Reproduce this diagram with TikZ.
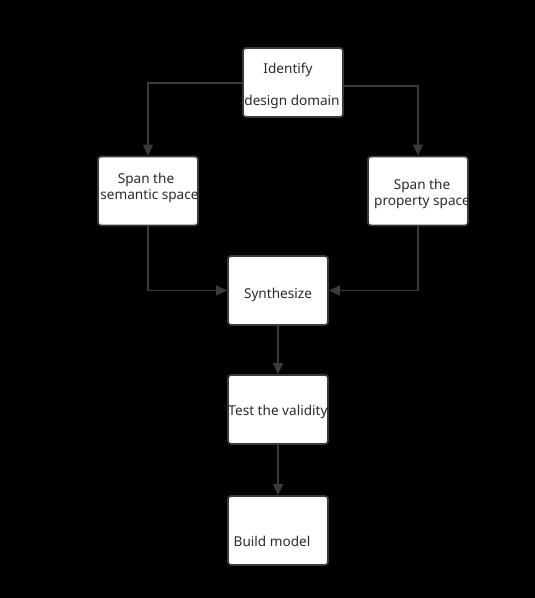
\documentclass[tikz,border=0pt]{standalone}
\usepackage{fontspec}
\setmainfont{Noto Sans}
\usetikzlibrary{arrows.meta}
\definecolor{ln}{HTML}{3A3A3A}
\definecolor{tx}{HTML}{2A2A2A}
\tikzset{
  x=1pt,y=-1pt,
  box/.style={draw=ln,line width=1.7pt,fill=white,rounded corners=3pt,minimum width=100pt,minimum height=69pt,inner sep=0pt},
  lbl/.style={text=tx,font=\fontsize{13.6}{15}\selectfont,inner sep=0pt,anchor=base},
  conn/.style={draw=ln,line width=1.6pt,-{Triangle[length=11pt,width=10pt]}}
}
\begin{document}
\begin{tikzpicture}
\fill[black] (0,0) rectangle (535,598);
\useasboundingbox (0,0) rectangle (535,598);
\node[box] (idf) at (293,82.5) {};
\node[box] (sem) at (148,191) {};
\node[box] (pro) at (418,191) {};
\node[box] (syn) at (278,290.5) {};
\node[box] (tst) at (278,409.5) {};
\node[box] (bld) at (278,530.5) {};
\node[lbl] (t1) at (288,73) {Identify};
\node[lbl] (t2) at (292,105) {design domain};
\node[lbl] (t3) at (146,183) {Span the};
\node[lbl] (t4) at (149.5,199) {semantic space};
\node[lbl] (t5) at (422,189) {Span the};
\node[lbl] (t6) at (422,205) {property space};
\node[lbl] (t7) at (278,298) {Synthesize};
\node[lbl] (t8) at (278,415) {Test the validity};
\node[lbl] (t9) at (272,546) {Build model};
\coordinate (a1) at (148,83);
\coordinate (a2) at (418,86);
\draw[conn] (idf.west |- a1) -- (a1) -- (sem.north);
\draw[conn] (idf.east |- a2) -- (a2) -- (pro.north);
\draw[conn] (sem.south) |- (syn.west);
\draw[conn] (pro.south) |- (syn.east);
\draw[conn] (syn.south) -- (tst.north);
\draw[conn] (tst.south) -- (bld.north);
\end{tikzpicture}
\end{document}
